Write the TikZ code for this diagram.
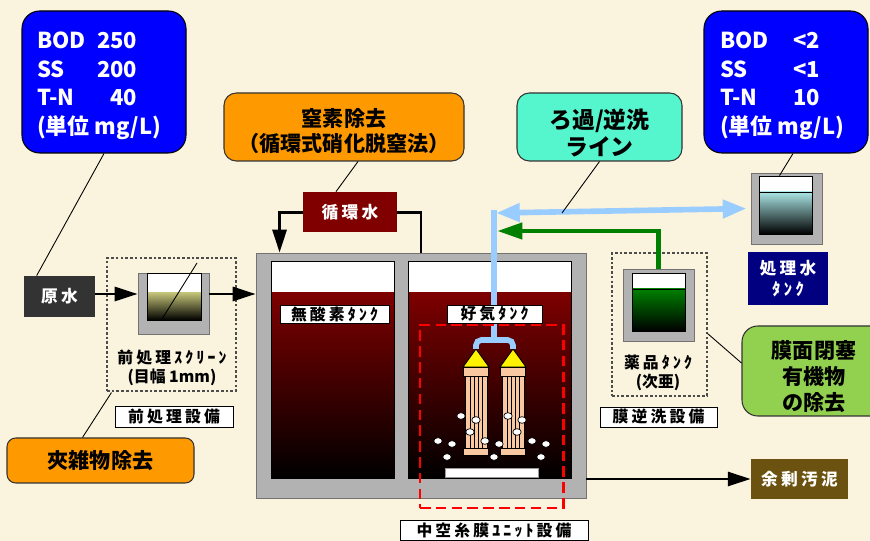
\documentclass[tikz,border=0pt]{standalone}
\usepackage{fontspec}
\setmainfont{Noto Sans CJK JP}
\newfontfamily\spacedjp{Noto Sans CJK JP}[LetterSpace=20]
\usetikzlibrary{
    arrows.meta,
    fit,
    calc
}

\definecolor{paper}{RGB}{250,243,222}
\definecolor{qblue}{RGB}{0,0,255}
\definecolor{calloutorange}{RGB}{255,153,0}
\definecolor{calloutaqua}{RGB}{85,245,205}
\definecolor{calloutgreen}{RGB}{146,208,80}
\definecolor{wall}{RGB}{178,178,178}
\definecolor{sludgered}{RGB}{125,0,0}
\definecolor{loopred}{RGB}{128,0,0}
\definecolor{navytank}{RGB}{0,0,128}
\definecolor{sludgebrown}{RGB}{108,82,16}
\definecolor{rawgray}{RGB}{51,51,51}
\definecolor{pipeblue}{RGB}{153,204,255}
\definecolor{chemgreen}{RGB}{0,128,0}
\definecolor{screenolive}{RGB}{192,192,118}
\definecolor{clearwater}{RGB}{170,228,228}
\definecolor{moduletan}{RGB}{250,200,160}

% one row of a water quality table: item left, value flush right
\newcommand{\qrow}[2]{\makebox[37pt][l]{#1}\makebox[20pt][r]{#2}}

\begin{document}
\begin{tikzpicture}[
    x=0.2mm, y=-0.2mm,
    every node/.style={
        font=\fontsize{9pt}{10.5pt}\selectfont\bfseries
    },
    dims/.style 2 args={
        minimum width=#1*0.2mm,
        minimum height=#2*0.2mm
    },
    quality/.style={
        rectangle,
        rounded corners=10pt,
        draw=black,
        line width=0.6pt,
        fill=qblue,
        inner sep=0pt,
        dims={164}{142}
    },
    qtext/.style={
        text=white,
        inner sep=0pt,
        align=left,
        font=\fontsize{12.5pt}{16.2pt}\selectfont\bfseries
    },
    callout/.style={
        rectangle,
        rounded corners=7pt,
        draw=black!80,
        line width=0.6pt,
        inner sep=0pt,
        align=center,
        font=\fontsize{12pt}{15pt}\selectfont\bfseries
    },
    calltext/.style={
        inner sep=0pt,
        align=center,
        font=\fontsize{12pt}{15pt}\selectfont\bfseries
    },
    tag/.style={
        rectangle,
        draw=black,
        line width=0.5pt,
        fill=white,
        inner sep=0pt,
        font=\spacedjp\fontsize{9pt}{11pt}\selectfont\bfseries
    },
    plate/.style={
        rectangle,
        inner sep=0pt,
        text=white,
        align=center,
        font=\spacedjp\fontsize{9.5pt}{12pt}\selectfont\bfseries
    },
    wallbox/.style={
        rectangle,
        fill=wall,
        draw=black!55,
        line width=0.5pt,
        inner sep=0pt
    },
    unitbox/.style={
        rectangle,
        draw=black!70,
        dash pattern=on 1.5pt off 1.2pt,
        line width=0.6pt,
        inner sep=0pt
    },
    flow/.style={
        -{Triangle[length=13pt,width=8pt]},
        line width=1.5pt,
        draw=black
    },
    lead/.style={
        line width=0.5pt,
        draw=black
    },
    pipe/.style={
        line width=3.2pt,
        draw=pipeblue
    },
    dosing/.style={
        -{Triangle[length=14.5pt,width=9pt]},
        line width=2.8pt,
        draw=chemgreen
    }
]

\useasboundingbox (0,0) rectangle (870,541);
\clip (0,0) rectangle (870,541);
\fill[paper] (0,0) rectangle (870,541);

% ---------------- quality tables ----------------
\node[quality] (inq) at (104,82) {};
\node[qtext] (inqtext) at ($(inq)+(-5,4)$)
    {\qrow{BOD}{250}\\ \qrow{SS}{200}\\ \qrow{T-N}{40}\\ (単位 mg/L)};
\node[quality] (outq) at (786,82) {};
\node[qtext] (outqtext) at ($(outq)+(-4,4)$)
    {\qrow{BOD}{<2}\\ \qrow{SS}{<1}\\ \qrow{T-N}{10}\\ (単位 mg/L)};

% ---------------- callouts ----------------
\node[callout, fill=calloutorange, dims={240}{68}] (nitro) at (344,127) {};
\node[calltext, font=\fontsize{12pt}{14.7pt}\selectfont\bfseries]
    (nitrotext) at ($(nitro)+(0,4)$) {窒素除去\\（循環式硝化脱窒法）};
\node[callout, fill=calloutaqua, dims={165}{68}] (filt) at (599.5,127) {};
\node[calltext, font=\fontsize{13pt}{15.3pt}\selectfont\bfseries]
    (filttext) at ($(filt)+(0,6)$) {ろ過/逆洗\\ライン};
\node[callout, rounded corners=5pt, fill=calloutorange, dims={187}{45}]
    (junk) at (100.5,460.5) {夾雑物除去};
\node[callout, rounded corners=9pt, fill=calloutgreen, dims={148}{90}]
    (clog) at (816,371) {};
\node[calltext] (clogtext) at ($(clog)+(-2,5.5)$) {膜面閉塞\\有機物\\の除去};

% ---------------- equipment frames ----------------
\node[unitbox, fit={(107,258) (236,391)}] (prebox) {};
\node[unitbox, fit={(612,253) (707,396)}] (chembox) {};

% pre-treatment screen
\node[wallbox, fit={(138,273) (209,334)}] (scr) {};
\fill[white] (147,273) rectangle (201,293);
\shade[top color=screenolive, bottom color=black] (147,293) rectangle (201,320);
\draw[line width=0.5pt] (147,273) rectangle (201,320);
\draw[line width=0.5pt] (197,263) -- (162,319);

% recirculation line (behind its label)
\node[wallbox, fit={(256,253) (586,498)}] (bio) {};
\draw[flow] (bio.north) -- ++(0,-40) -| ($(bio.north west)+(24,0)$);
\node[plate, fill=loopred, dims={94}{40}] (recyc) at (350,212) {循環水};

% anoxic and aerobic chambers
\foreach \cx/\cxx in {271/394, 408/571} {
    \fill[white] (\cx,261) rectangle (\cxx,293);
    \shade[top color=sludgered, bottom color=black] (\cx,293) rectangle (\cxx,478);
    \draw[line width=0.5pt] (\cx,261) rectangle (\cxx,478);
}

% hollow fibre modules
\foreach \mx in {476,513} {
    \filldraw[fill=moduletan, line width=0.5pt] (\mx-11,376) rectangle (\mx+11,448);
    \foreach \d in {-6,-2,2,6}
        \draw[line width=0.5pt] (\mx+\d,376) -- (\mx+\d,448);
    \filldraw[fill=moduletan, line width=0.5pt] (\mx-12.5,367) rectangle (\mx+12.5,376);
    \filldraw[fill=moduletan, line width=0.5pt] (\mx-12.5,448) rectangle (\mx+12.5,455);
    \filldraw[fill=yellow, line width=0.5pt] (\mx,349) -- (\mx-13,367) -- (\mx+13,367) -- cycle;
}

% diffuser and air bubbles
\filldraw[fill=white, draw=black!40, line width=0.4pt] (445,468) rectangle (538,477);
\foreach \bx/\by in {461/416, 476/420, 470/432, 485/441, 438/441, 452/444, 447/457,
                     508/416, 522/420, 517/432, 499/444, 494/457, 532/441, 546/444, 541/457}
    \filldraw[fill=white, draw=black, line width=0.4pt] (\bx,\by) ellipse [x radius=4.2, y radius=3.3];

% treated water tank
\node[wallbox, fit={(751,173) (822,244)}] (twater) {};
\fill[white] (759,176) rectangle (812,192);
\shade[top color=clearwater, bottom color=black] (759,192) rectangle (812,234);
\draw[line width=0.5pt] (759,176) rectangle (812,234);
\draw[line width=0.5pt] (759,192) -- (812,192);

% chemical tank
\node[wallbox, fit={(623,269) (694,341)}] (chem) {};
\fill[white] (632,273) rectangle (685,289);
\shade[top color=chemgreen, bottom color=black] (632,289) rectangle (685,331);
\draw[line width=0.5pt] (632,273) rectangle (685,331);
\draw[line width=0.5pt] (632,289) -- (685,289);

% backwash dosing and filtrate / backwash line
\coordinate (dosein) at (497,231);
\coordinate (pipetop) at (494,213);
\draw[dosing] (chem.north) |- (dosein);
\draw[pipe, rounded corners=3pt] (476,349) -- (476,340) -- (513,340) -- (513,349);
\draw[pipe] (494,340) -- (494,210);
\draw[pipe, {Triangle[length=13.5pt,width=10pt]}-{Triangle[length=13.5pt,width=10pt]},
      shorten >=2.3pt] ($(pipetop)+(2,0)$) -- (twater.west);

% tank labels
\node[tag, dims={109}{18}] (anoxtag) at (334.5,314) {無酸素ﾀﾝｸ};
\node[tag, dims={95}{18}] (oxtag) at (494.5,314) {好気ﾀﾝｸ};

% membrane unit frame
\node[draw=red, dash pattern=on 6pt off 3pt, line width=1.7pt, inner sep=0pt,
      fit={(420,325) (563,508)}] (mbr) {};

% equipment names
\node[tag, dims={188}{20}] (mbrtag) at (494,530) {中空糸膜ﾕﾆｯﾄ設備};
\node[tag, dims={118}{21}] (pretag) at (174,416.5) {前処理設備};
\node[tag, dims={117}{20}] (washtag) at (658.5,417) {膜逆洗設備};
\node[align=center] (scrcap) at (172,368) {{\spacedjp 前処理ｽｸﾘｰﾝ}\\(目幅 1mm)};
\node[align=center] (chemcap) at (658,373) {{\spacedjp 薬品ﾀﾝｸ}\\(次亜)};

% streams in and out
\node[plate, fill=rawgray, dims={71}{41}] (raw) at (59.5,296.5) {原水};
\node[plate, fill=navytank, dims={80}{53}] (twtag) at (788,278.5) {処理水\\ﾀﾝｸ};
\node[plate, fill=sludgebrown, dims={97}{40}] (excess) at (799.5,479) {余剰汚泥};

\coordinate (feed) at (0,294);
\draw[flow] (feed -| raw.east) -- (feed -| scr.west);
\draw[flow] (feed -| scr.east) -- (feed -| bio.west);
\draw[flow] (bio.east |- excess) -- (excess.west);

% callout leaders
\draw[lead] (inq.south) -- ($(raw.north west)+(13,0)$);
\draw[lead] ($(nitro.south)+(14,0)$) -- ($(recyc.north)+(-14,0)$);
\draw[lead] (filt.south) -- ($(pipetop)+(68,0)$);
\draw[lead] ($(outq.south)+(7,0)$) -- ($(twater.north)+(-7,3)$);
\draw[lead] ($(prebox.south west)+(5,1)$) -- ($(junk.north)+(-18,0)$);
\draw[lead] ($(chembox.east)+(0,9)$) -- ($(clog.west)+(0,-8)$);

\end{tikzpicture}
\end{document}
